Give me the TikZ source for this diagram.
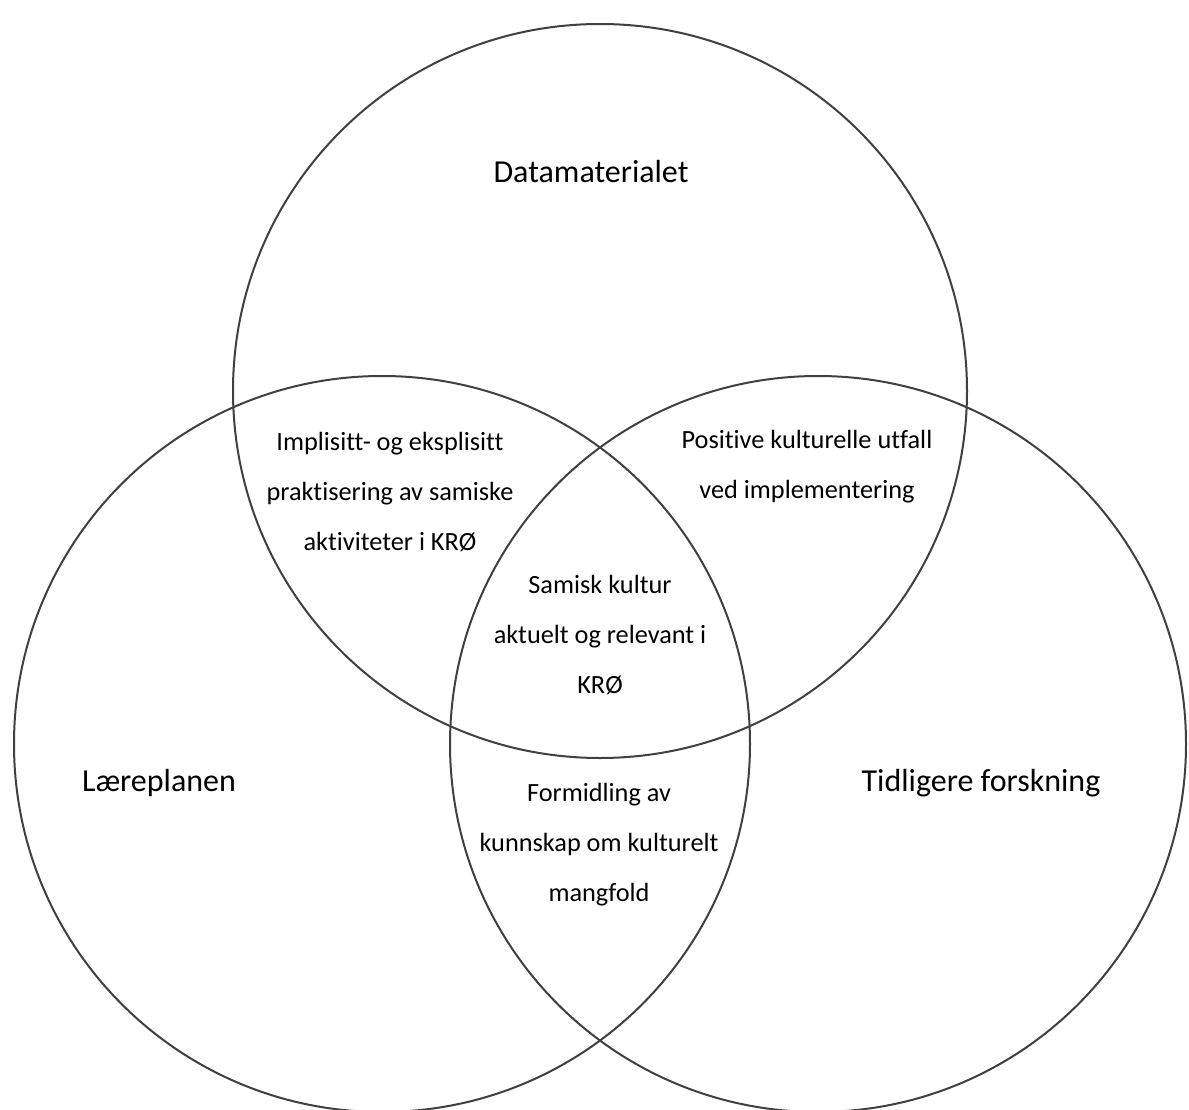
\documentclass[tikz,border=0pt]{standalone}
\usepackage{fontspec}
\setmainfont[Ligatures=NoCommon]{Carlito}
\begin{document}
\begin{tikzpicture}[x=1pt,y=-1pt,
  ring/.style={draw=black!75,line width=2pt},
  biglabel/.style={font=\fontsize{32}{38}\selectfont,inner sep=0pt},
  smalllabel/.style={font=\fontsize{26.3}{50}\selectfont,align=center,inner sep=0pt}]
\useasboundingbox[fill=white] (0,0) rectangle (1189,1110);
\begin{scope}
\clip (0,0) rectangle (1189,1110);
\node[ring,circle,minimum size=734pt,inner sep=0pt] (top) at (600,391) {};
\node[ring,circle,minimum size=736pt,inner sep=0pt] (left) at (382,744) {};
\node[ring,circle,minimum size=736pt,inner sep=0pt] (right) at (818,744) {};
\end{scope}
\node[biglabel] (tdata) at (591,172) {Datamaterialet};
\node[biglabel] (tlp) at (159,783) {Læreplanen};
\node[biglabel] (ttf) at (981,783) {Tidligere forskning};
\node[smalllabel] (tip) at (390,492) {Implisitt- og eksplisitt\\praktisering av samiske\\aktiviteter i KRØ};
\node[smalllabel] (tpos) at (807,467) {Positive kulturelle utfall\\ved implementering};
\node[smalllabel] (tsam) at (600,635) {Samisk kultur\\aktuelt og relevant i\\KRØ};
\node[smalllabel] (tform) at (599,845) {Formidling av\\kunnskap om kulturelt\\mangfold};
\end{tikzpicture}
\end{document}
